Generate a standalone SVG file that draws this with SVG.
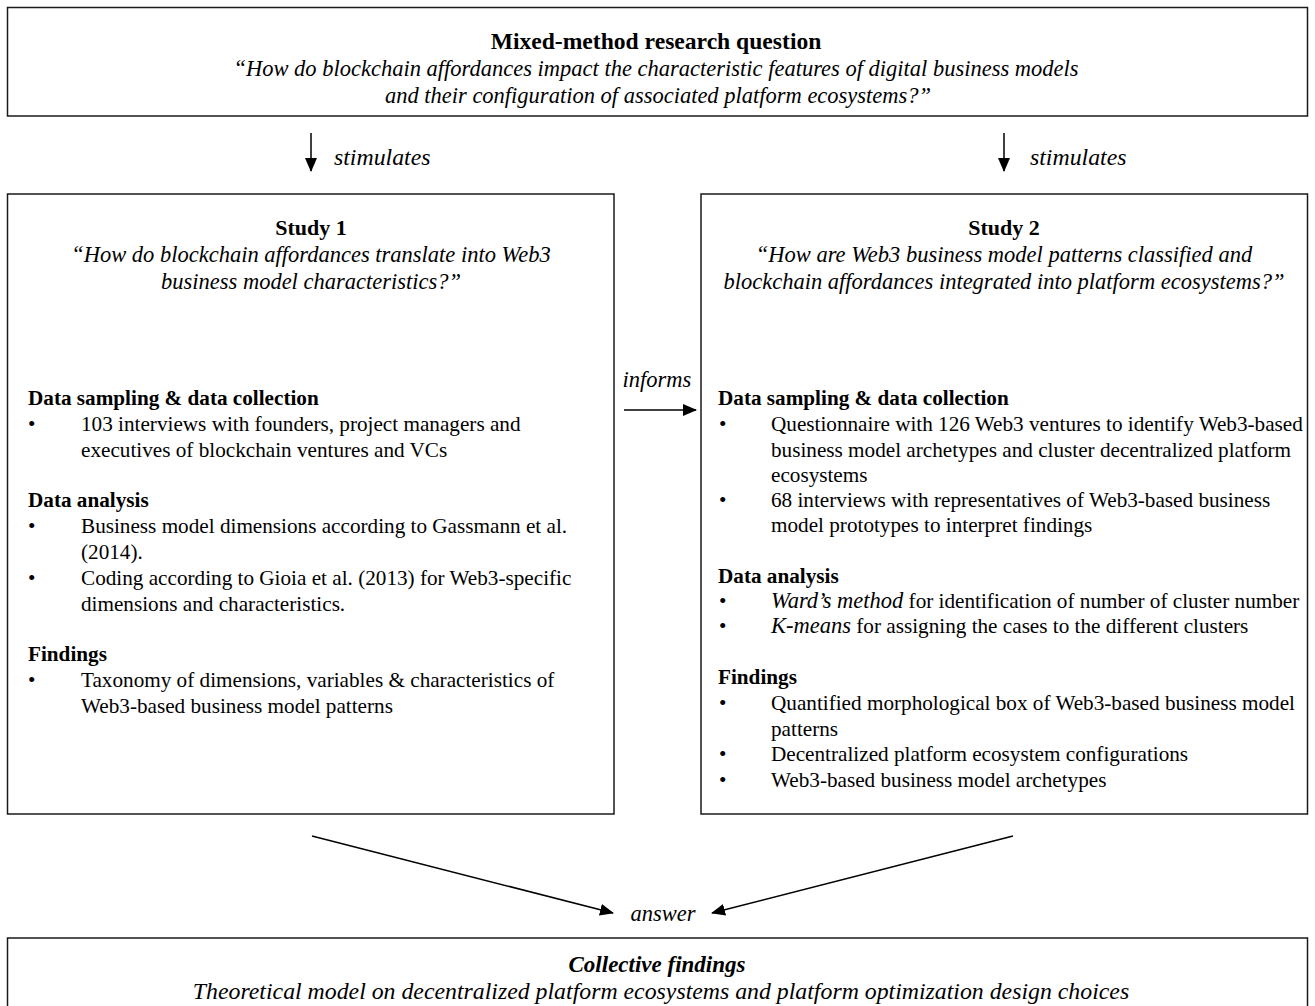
<svg xmlns="http://www.w3.org/2000/svg" width="1315" height="1006" viewBox="0 0 1315 1006">
<defs>
<style>
.box{fill:#fff;stroke:#1a1a1a;stroke-width:1.5}
text{font-family:"Liberation Serif","Times New Roman",serif;fill:#000;font-size:21.2px}
.b{font-weight:bold}
.i{font-style:italic}
.c{text-anchor:middle}
.t{font-size:23.6px}
.h{font-size:22px}
.q{font-size:22.5px}
.s{font-size:23.8px}
.ln{stroke:#000;stroke-width:1.5;fill:none}
</style>
<marker id="ah" markerUnits="userSpaceOnUse" markerWidth="14" markerHeight="12" refX="13" refY="6" orient="auto">
<path d="M0,0 L14,6 L0,12 z" fill="#000"/>
</marker>
</defs>
<rect width="1315" height="1006" fill="#fff"/>

<g id="research-question">
<rect class="box" x="7.5" y="7.5" width="1300" height="108.5"/>
<text class="b c t" x="656" y="49">Mixed-method research question</text>
<text class="i c q" x="656" y="76">“How do blockchain affordances impact the characteristic features of digital business models</text>
<text class="i c q" x="658" y="103">and their configuration of associated platform ecosystems?”</text>
</g>

<g id="study1">
<rect class="box" x="7.5" y="194" width="606.5" height="620"/>
<text class="b c h" x="311" y="235">Study 1</text>
<text class="i c q" x="311" y="262">“How do blockchain affordances translate into Web3</text>
<text class="i c q" x="311" y="289">business model characteristics?”</text>
<text class="b" x="28" y="405">Data sampling &amp; data collection</text>
<text x="28" y="431">•</text><text x="81" y="431">103 interviews with founders, project managers and</text>
<text x="81" y="457">executives of blockchain ventures and VCs</text>
<text class="b" x="28" y="507">Data analysis</text>
<text x="28" y="533">•</text><text x="81" y="533">Business model dimensions according to Gassmann et al.</text>
<text x="81" y="559">(2014).</text>
<text x="28" y="585">•</text><text x="81" y="585">Coding according to Gioia et al. (2013) for Web3-specific</text>
<text x="81" y="611">dimensions and characteristics.</text>
<text class="b" x="28" y="661">Findings</text>
<text x="28" y="687">•</text><text x="81" y="687">Taxonomy of dimensions, variables &amp; characteristics of</text>
<text x="81" y="713">Web3-based business model patterns</text>
</g>

<g id="study2">
<rect class="box" x="701" y="194" width="606.5" height="620"/>
<text class="b c h" x="1004" y="235">Study 2</text>
<text class="i c q" x="1004" y="262">“How are Web3 business model patterns classified and</text>
<text class="i c q" x="1004" y="289">blockchain affordances integrated into platform ecosystems?”</text>
<text class="b" x="718" y="405">Data sampling &amp; data collection</text>
<text x="719" y="431">•</text><text x="771" y="431">Questionnaire with 126 Web3 ventures to identify Web3-based</text>
<text x="771" y="457">business model archetypes and cluster decentralized platform</text>
<text x="771" y="482">ecosystems</text>
<text x="719" y="507">•</text><text x="771" y="507">68 interviews with representatives of Web3-based business</text>
<text x="771" y="532">model prototypes to interpret findings</text>
<text class="b" x="718" y="583">Data analysis</text>
<text x="719" y="608">•</text><text x="771" y="608"><tspan class="i q">Ward’s method</tspan> for identification of number of cluster number</text>
<text x="719" y="633">•</text><text x="771" y="633"><tspan class="i q">K-means</tspan> for assigning the cases to the different clusters</text>
<text class="b" x="718" y="684">Findings</text>
<text x="719" y="710">•</text><text x="771" y="710">Quantified morphological box of Web3-based business model</text>
<text x="771" y="736">patterns</text>
<text x="719" y="761">•</text><text x="771" y="761">Decentralized platform ecosystem configurations</text>
<text x="719" y="787">•</text><text x="771" y="787">Web3-based business model archetypes</text>
</g>

<g id="collective-findings">
<rect class="box" x="7.5" y="938" width="1300" height="80"/>
<text class="b i c" x="657" y="972" style="font-size:23px">Collective findings</text>
<text class="i c s" x="661" y="999">Theoretical model on decentralized platform ecosystems and platform optimization design choices</text>
</g>

<g id="connectors">
<line class="ln" x1="311" y1="133" x2="311" y2="171" marker-end="url(#ah)"/>
<text class="i s" x="334" y="165">stimulates</text>
<line class="ln" x1="1004" y1="133" x2="1004" y2="171" marker-end="url(#ah)"/>
<text class="i s" x="1030" y="165">stimulates</text>
<line class="ln" x1="624" y1="410" x2="696" y2="410" marker-end="url(#ah)"/>
<text class="i c q" x="657" y="387">informs</text>
<line class="ln" x1="312" y1="836" x2="613" y2="913" marker-end="url(#ah)"/>
<line class="ln" x1="1013" y1="836" x2="712" y2="913" marker-end="url(#ah)"/>
<text class="i c q" x="663" y="921">answer</text>
</g>
</svg>
